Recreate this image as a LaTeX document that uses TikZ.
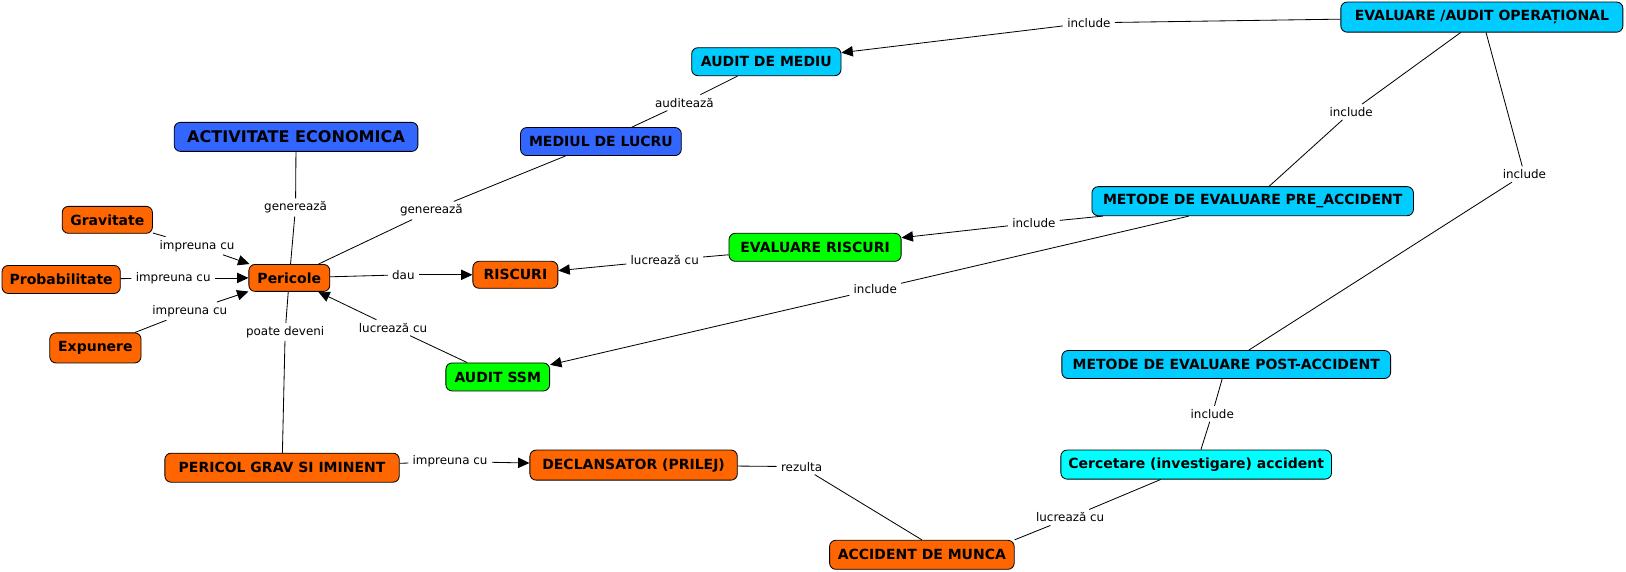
\documentclass[tikz,border=0pt]{standalone}
\usepackage{fontspec}
\setmainfont{DejaVu Sans}
\usetikzlibrary{arrows.meta}
\definecolor{corange}{RGB}{255,102,0}
\definecolor{cblue}{RGB}{51,102,255}
\definecolor{csky}{RGB}{0,204,255}
\definecolor{ccyan}{RGB}{0,255,255}
\definecolor{cgreen}{RGB}{0,255,0}
\begin{document}
\begin{tikzpicture}[x=1pt,y=-1pt,
 concept/.style={draw=black, line width=0.8pt, rounded corners=6pt, font=\fontsize{13.5}{16}\selectfont\bfseries, inner xsep=3pt, inner ysep=0pt, minimum height=27pt, text=black},
 lab/.style={font=\fontsize{11.5}{13}\selectfont, fill=white, inner xsep=4pt, inner ysep=3pt, text=black},
 link/.style={line width=0.8pt, draw=black},
 arr/.style={link, -{Triangle[length=11pt,width=10pt]}}]
\useasboundingbox (0,0) rectangle (1568,551);

% concepts
\node[concept, fill=csky, minimum width=272pt, minimum height=29pt] (eval) at (1429,16.5) {EVALUARE /AUDIT OPERAȚIONAL};
\node[concept, fill=csky, minimum width=144pt] (audm) at (739,59.5) {AUDIT DE MEDIU};
\node[concept, fill=cblue, minimum width=235pt, minimum height=28pt, font=\fontsize{15.5}{18}\selectfont\bfseries] (act) at (285.5,132) {ACTIVITATE ECONOMICA};
\node[concept, fill=cblue, minimum width=155pt] (med) at (579.5,136.5) {MEDIUL DE LUCRU};
\node[concept, fill=csky, minimum width=310pt, minimum height=28pt] (pre) at (1208,194) {METODE DE EVALUARE PRE\_ACCIDENT};
\node[concept, fill=corange, minimum width=87pt, minimum height=26pt] (grav) at (103.5,212) {Gravitate};
\node[concept, fill=cgreen, minimum width=166pt] (evr) at (786,238.5) {EVALUARE RISCURI};
\node[concept, fill=corange, minimum width=114pt] (prob) at (59,269.5) {Probabilitate};
\node[concept, fill=corange, minimum width=78pt, minimum height=26pt] (per) at (279,268) {Pericole};
\node[concept, fill=corange, minimum width=82pt, minimum height=26pt] (ris) at (497,265) {RISCURI};
\node[concept, fill=corange, minimum width=88pt, minimum height=29pt] (exp) at (92,335.5) {Expunere};
\node[concept, fill=cgreen, minimum width=100pt] (ssm) at (480,363.5) {AUDIT SSM};
\node[concept, fill=csky, minimum width=317pt] (post) at (1182.5,351.5) {METODE DE EVALUARE POST-ACCIDENT};
\node[concept, fill=ccyan, minimum width=261pt, minimum height=28pt] (cerc) at (1153.5,448) {Cercetare (investigare) accident};
\node[concept, fill=corange, minimum width=226pt, minimum height=28pt] (pgi) at (272,451) {PERICOL GRAV SI IMINENT};
\node[concept, fill=corange, minimum width=200pt, minimum height=29pt] (decl) at (611,448.5) {DECLANSATOR (PRILEJ)};
\node[concept, fill=corange, minimum width=178pt, minimum height=28pt] (acc) at (889,535) {ACCIDENT DE MUNCA};

% linking phrases
\node[lab] (l1) at (1050,22) {include};
\node[lab] (l2) at (1303,108) {include};
\node[lab] (l3) at (1470,168) {include};
\node[lab] (l4) at (997,215) {include};
\node[lab] (l5) at (844,279) {include};
\node[lab] (l6) at (1169,399) {include};
\node[lab] (l7) at (1032,499) {lucrează cu};
\node[lab] (l8) at (773,450) {rezulta};
\node[lab] (l9) at (434,445) {impreuna cu};
\node[lab] (l10) at (275,320) {poate deveni};
\node[lab] (l11) at (379,316) {lucrează cu};
\node[lab] (l12) at (641,251) {lucrează cu};
\node[lab] (l13) at (389,265) {dau};
\node[lab] (l14) at (285,200) {generează};
\node[lab] (l15) at (416,203) {generează};
\node[lab] (l16) at (660,99) {auditează};
\node[lab] (l17) at (190,237) {impreuna cu};
\node[lab] (l18) at (167,268) {impreuna cu};
\node[lab] (l19) at (183,300) {impreuna cu};

% connectors
\draw[link] (eval) -- (l1); \draw[arr] (l1) -- (audm);
\draw[link] (eval) -- (l2); \draw[link] (l2) -- (pre);
\draw[link] (eval) -- (l3); \draw[link] (l3) -- (post);
\draw[link] (pre) -- (l4); \draw[arr] (l4) -- (evr);
\draw[link] (pre) -- (l5); \draw[arr] (l5) -- (ssm);
\draw[link] (post) -- (l6); \draw[link] (l6) -- (cerc);
\draw[link] (cerc) -- (l7); \draw[link] (l7) -- (acc.north east);
\draw[link] (decl) -- (l8); \draw[link] (l8) -- (acc.north);
\draw[link] (pgi) -- (l9); \draw[arr] (l9) -- (decl);
\draw[link] (per) -- (l10); \draw[link] (l10) -- (pgi);
\draw[link] (ssm) -- (l11); \draw[arr] (l11) -- (per);
\draw[link] (evr) -- (l12); \draw[arr] (l12) -- (ris);
\draw[link] (per) -- (l13); \draw[arr] (l13) -- (ris);
\draw[link] (act) -- (l14); \draw[link] (l14) -- (per);
\draw[link] (med) -- (l15); \draw[link] (l15) -- (per);
\draw[link] (med) -- (l16); \draw[link] (l16) -- (audm);
\draw[link] (grav) -- (l17); \draw[arr] (l17) -- (per);
\draw[link] (prob) -- (l18); \draw[arr] (l18) -- (per);
\draw[link] (exp) -- (l19); \draw[arr] (l19) -- (per);
\end{tikzpicture}
\end{document}
